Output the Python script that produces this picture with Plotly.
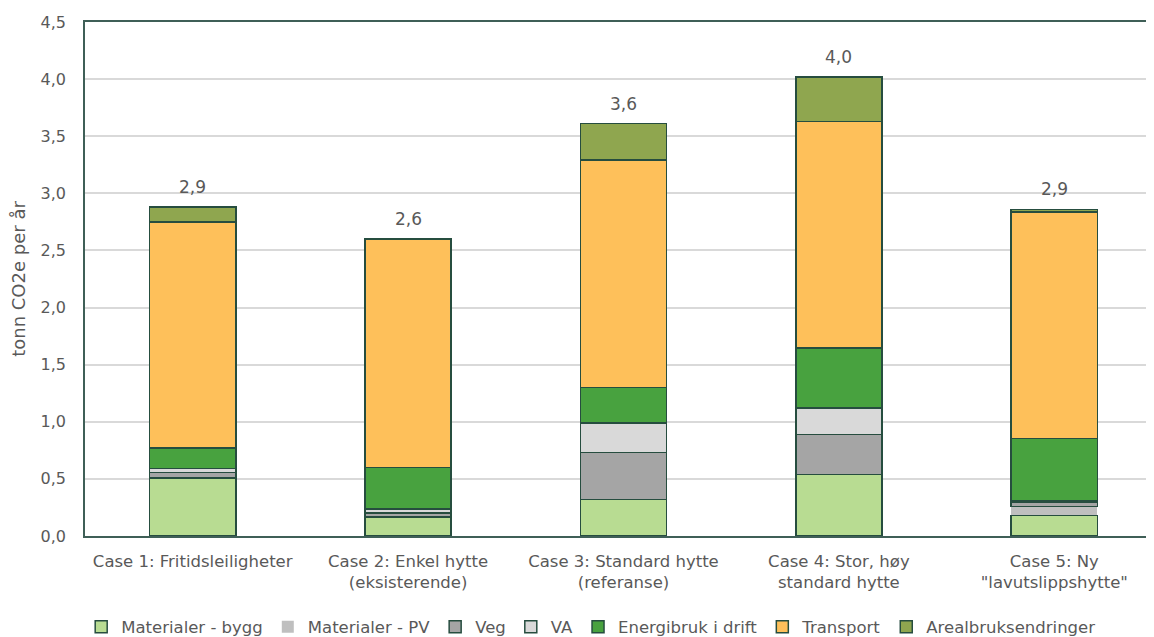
import plotly.graph_objects as go

cases = [
    "Case 1: Fritidsleiligheter",
    "Case 2: Enkel hytte<br>(eksisterende)",
    "Case 3: Standard hytte<br>(referanse)",
    "Case 4: Stor, høy<br>standard hytte",
    "Case 5: Ny<br>\"lavutslippshytte\"",
]

materialer_bygg = [0.51, 0.165, 0.32, 0.54, 0.18]
materialer_pv = [0.0, 0.0, 0.0, 0.0, 0.08]
veg = [0.045, 0.035, 0.41, 0.35, 0.035]
va = [0.035, 0.035, 0.26, 0.23, 0.01]
energibruk = [0.18, 0.365, 0.31, 0.525, 0.55]
transport = [1.98, 2.0, 1.99, 1.985, 1.98]
arealbruk = [0.13, 0.0, 0.32, 0.39, 0.025]

series = [
    ("Materialer - bygg", materialer_bygg, "#B8DC92", True),
    ("Materialer - PV", materialer_pv, "#BFBFBF", False),
    ("Veg", veg, "#A5A5A5", True),
    ("VA", va, "#D9D9D9", True),
    ("Energibruk i drift", energibruk, "#48A23F", True),
    ("Transport", transport, "#FEC05A", True),
    ("Arealbruksendringer", arealbruk, "#8FA64F", True),
]

fig = go.Figure()

for name, vals, color, outlined in series:
    fig.add_trace(
        go.Bar(
            x=cases,
            y=vals,
            name=name,
            marker=dict(
                color=color,
                line=dict(color="#264D3F" if outlined else color, width=1.5 if outlined else 0),
            ),
            width=0.4,
        )
    )

totals = [sum(v) for v in zip(materialer_bygg, materialer_pv, veg, va, energibruk, transport, arealbruk)]
for c, t in zip(cases, totals):
    fig.add_annotation(
        x=c, y=t, text=f"{t:.1f}".replace(".", ","), showarrow=False,
        yanchor="bottom", yshift=8, font=dict(size=17, color="#595959"),
    )

fig.update_layout(
    width=1154,
    height=637,
    barmode="stack",
    separators=", ",
    plot_bgcolor="white",
    paper_bgcolor="white",
    font=dict(family="DejaVu Sans, sans-serif", size=16, color="#595959"),
    margin=dict(l=77, r=0, t=14, b=109),
    yaxis=dict(
        title=dict(text="tonn CO2e per år", font=dict(size=18), standoff=10),
        range=[0, 4.5],
        dtick=0.5,
        tickformat=".1f",
        gridcolor="#D9D9D9",
        gridwidth=1.5,
        zeroline=False,
        showline=True,
        linecolor="#3F5F57",
        linewidth=1.5,
        mirror=True,
        ticks="",
        ticklabelstandoff=14,
        automargin=False,
    ),
    xaxis=dict(
        range=[-0.5, 4.5],
        showline=True,
        linecolor="#3F5F57",
        linewidth=2,
        mirror=True,
        tickfont=dict(size=16.5),
        ticklabelstandoff=9,
        automargin=False,
    ),
    legend=dict(
        orientation="h",
        x=0.47,
        xanchor="center",
        y=-0.177,
        yanchor="middle",
        itemwidth=30,
        traceorder="normal",
        font=dict(size=16.5),
    ),
)

fig.write_html("out.html")
